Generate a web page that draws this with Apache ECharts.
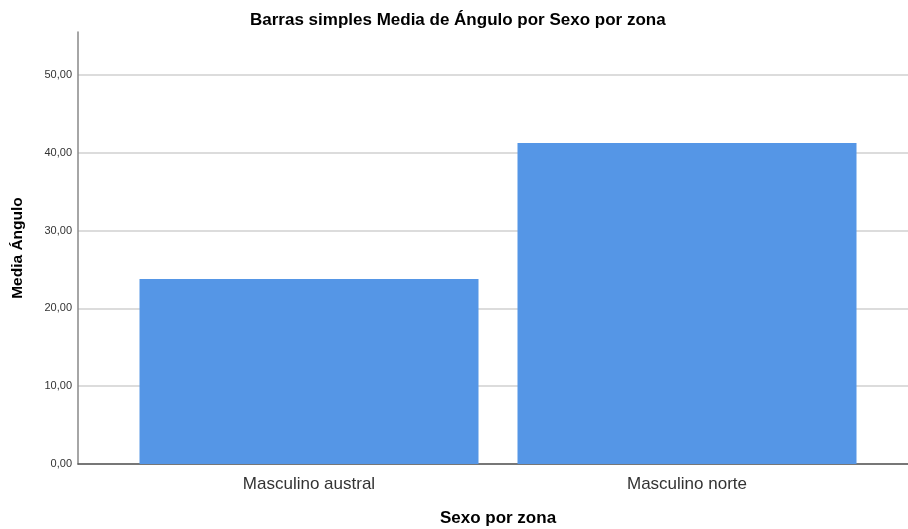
<!DOCTYPE html>
<html>
<head>
<meta charset="utf-8">
<script src="https://cdn.jsdelivr.net/npm/echarts@6/dist/echarts.min.js"></script>
<style>
  html, body { margin: 0; padding: 0; background: #fff; }
  #chart { width: 908px; height: 529px; }
</style>
</head>
<body>
<div id="chart"></div>
<script>
  // datos
  var categorias = ['Masculino austral', 'Masculino norte'];
  var medias = [23.76, 41.23];
  var yMax = 55.5;
  var yStep = 10;

  var fuente = 'Liberation Sans, Arial, sans-serif';
  var chart = echarts.init(document.getElementById('chart'));

  function fmt(v) {
    return v.toFixed(2).replace('.', ',');
  }

  var option = {
    animation: false,
    title: {
      text: 'Barras simples Media de Ángulo por Sexo por zona',
      left: 245,
      top: 7,
      textStyle: { fontFamily: fuente, fontSize: 17, fontWeight: 'bold', color: '#000' }
    },
    grid: [
      // marco: eje Y y lineas de cuadricula
      { left: 78, right: 0, top: 32, bottom: 65, outerBoundsMode: 'none', containLabel: false },
      // barras
      { left: 120, right: 32, top: 32, bottom: 65, outerBoundsMode: 'none', containLabel: false }
    ],
    xAxis: [
      {
        gridIndex: 0, type: 'value', min: 0, max: 1,
        axisLine: { show: true, lineStyle: { color: '#555', width: 1.5 } },
        axisTick: { show: false }, axisLabel: { show: false }, splitLine: { show: false }
      },
      {
        gridIndex: 1, type: 'category', data: categorias,
        axisLine: { show: false }, axisTick: { show: false },
        axisLabel: { fontFamily: fuente, fontSize: 17, color: '#333', margin: 12 },
        name: 'Sexo por zona', nameLocation: 'middle', nameGap: 46,
        nameTextStyle: { fontFamily: fuente, fontSize: 17, fontWeight: 'bold', color: '#000' }
      }
    ],
    yAxis: [
      {
        gridIndex: 0, type: 'value', min: 0, max: yMax, interval: yStep,
        axisLine: { show: true, lineStyle: { color: '#888', width: 1.5 } },
        axisTick: { show: false },
        axisLabel: { fontFamily: fuente, fontSize: 11, color: '#333', margin: 6, formatter: fmt,
          showMaxLabel: false },
        splitLine: { show: true, showMaxLine: false, lineStyle: { color: '#d0d0d0', width: 1.5 } },
        name: 'Media Ángulo', nameLocation: 'middle', nameGap: 52,
        nameTextStyle: { fontFamily: fuente, fontSize: 15.5, fontWeight: 'bold', color: '#000' }
      },
      {
        gridIndex: 1, type: 'value', min: 0, max: yMax, show: false
      }
    ],
    series: [{
      type: 'bar',
      xAxisIndex: 1,
      yAxisIndex: 1,
      data: medias,
      barWidth: 339,
      itemStyle: { color: '#5596E6' }
    }]
  };

  chart.setOption(option);
</script>
</body>
</html>
